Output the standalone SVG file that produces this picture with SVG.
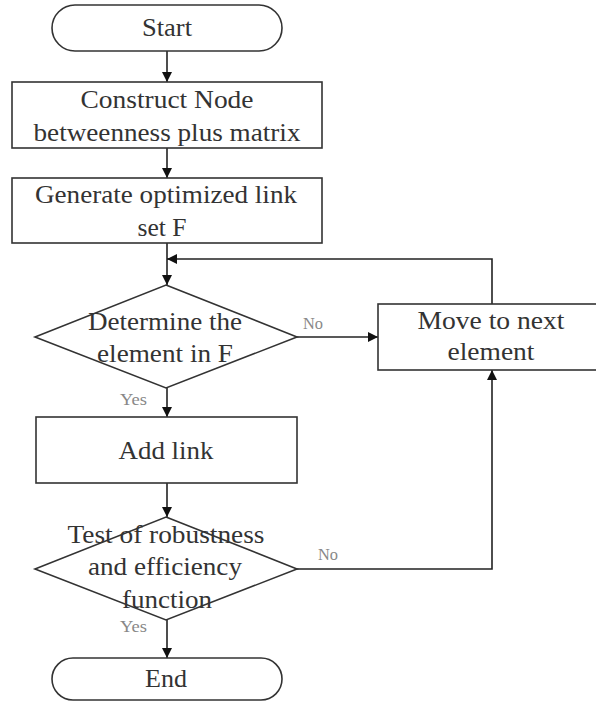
<svg xmlns="http://www.w3.org/2000/svg" width="596" height="704" viewBox="0 0 596 704">
<style>
.shape{fill:#fff;stroke:#333;stroke-width:1.6}
.t{font-family:"Liberation Serif","Times New Roman",serif;font-size:26px;fill:#333;text-anchor:middle}
.lbl{font-family:"Liberation Serif","Times New Roman",serif;font-size:17px;fill:#888}
.c{fill:none;stroke:#222;stroke-width:1.6}
</style>
<defs>
<marker id="ah" viewBox="0 0 10 10" refX="10" refY="5" markerWidth="10" markerHeight="10" markerUnits="userSpaceOnUse" orient="auto">
<path d="M0,0 L10,5 L0,10 z" fill="#111"/>
</marker>
</defs>
<rect width="596" height="704" fill="#fff"/>
<g id="connectors">
<path class="c" d="M167,51 V82" marker-end="url(#ah)"/>
<path class="c" d="M167,148 V178" marker-end="url(#ah)"/>
<path class="c" d="M167,243 V285" marker-end="url(#ah)"/>
<path class="c" d="M297,337 H378" marker-end="url(#ah)"/>
<path class="c" d="M492,304 V259 H167" marker-end="url(#ah)"/>
<path class="c" d="M167,388 V417" marker-end="url(#ah)"/>
<path class="c" d="M167,483 V517" marker-end="url(#ah)"/>
<path class="c" d="M297,569 H492 V370" marker-end="url(#ah)"/>
<path class="c" d="M167,620 V658" marker-end="url(#ah)"/>
<text class="lbl" x="303" y="329" textLength="20" lengthAdjust="spacingAndGlyphs">No</text>
<text class="lbl" x="120" y="405" textLength="27" lengthAdjust="spacingAndGlyphs">Yes</text>
<text class="lbl" x="318" y="560" textLength="20" lengthAdjust="spacingAndGlyphs">No</text>
<text class="lbl" x="120" y="632" textLength="27" lengthAdjust="spacingAndGlyphs">Yes</text>
</g>
<g id="start">
<rect class="shape" x="52" y="5" width="230" height="46" rx="23" ry="23"/>
<text class="t" x="167" y="36" textLength="50" lengthAdjust="spacingAndGlyphs">Start</text>
</g>
<g id="construct">
<rect class="shape" x="12" y="82" width="310" height="66"/>
<text class="t" x="167" y="108" textLength="173" lengthAdjust="spacingAndGlyphs">Construct Node</text>
<text class="t" x="167" y="141" textLength="267" lengthAdjust="spacingAndGlyphs">betweenness plus matrix</text>
</g>
<g id="generate">
<rect class="shape" x="12" y="178" width="310" height="65"/>
<text class="t" x="166" y="203" textLength="262" lengthAdjust="spacingAndGlyphs">Generate optimized link</text>
<text class="t" x="162" y="236" textLength="49" lengthAdjust="spacingAndGlyphs">set F</text>
</g>
<g id="determine">
<polygon class="shape" points="166,285 297,337 166,388 35,337"/>
<text class="t" x="165" y="330" textLength="154" lengthAdjust="spacingAndGlyphs">Determine the</text>
<text class="t" x="165" y="362" textLength="136" lengthAdjust="spacingAndGlyphs">element in F</text>
</g>
<g id="move">
<rect class="shape" x="378" y="304" width="230" height="66"/>
<text class="t" x="491" y="329" textLength="147" lengthAdjust="spacingAndGlyphs">Move to next</text>
<text class="t" x="491" y="360" textLength="87" lengthAdjust="spacingAndGlyphs">element</text>
</g>
<g id="addlink">
<rect class="shape" x="36" y="417" width="261" height="66"/>
<text class="t" x="166" y="459" textLength="95" lengthAdjust="spacingAndGlyphs">Add link</text>
</g>
<g id="test">
<polygon class="shape" points="166,517 297,569 166,620 35,569"/>
<text class="t" x="166" y="543" textLength="197" lengthAdjust="spacingAndGlyphs">Test of robustness</text>
<text class="t" x="165" y="575" textLength="154" lengthAdjust="spacingAndGlyphs">and efficiency</text>
<text class="t" x="167" y="608" textLength="90" lengthAdjust="spacingAndGlyphs">function</text>
</g>
<g id="end">
<rect class="shape" x="52" y="658" width="230" height="42" rx="21" ry="21"/>
<text class="t" x="166" y="687" textLength="42" lengthAdjust="spacingAndGlyphs">End</text>
</g>
</svg>
